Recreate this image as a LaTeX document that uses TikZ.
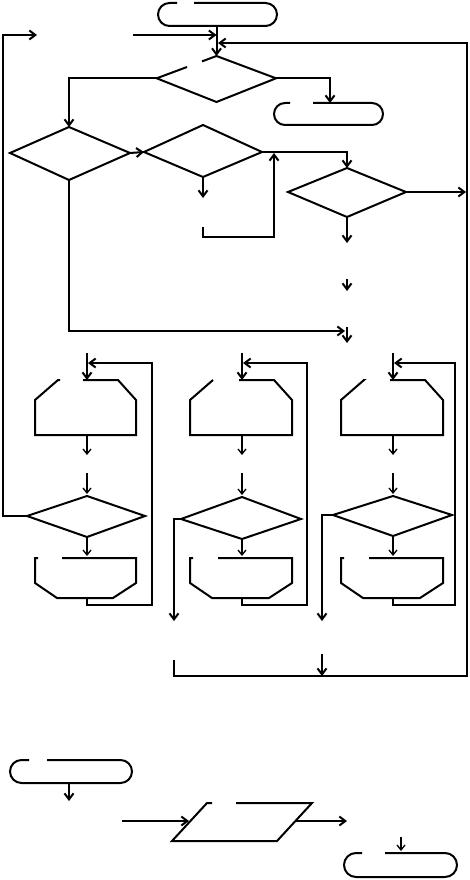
\documentclass[tikz,border=0pt]{standalone}
\usetikzlibrary{arrows.meta}
\begin{document}
\begin{tikzpicture}[x=1pt,y=-1pt,line join=miter,
  outline/.style={line width=2pt},
  wire/.style={line width=2pt},
  arr/.style={line width=2pt,-{Straight Barb[length=6pt,width=9pt]}},
  tarr/.style={line width=1.3pt,-{Straight Barb[length=5pt,width=8pt]}}]
\useasboundingbox (0,0) rectangle (469,880);

% ---------- top part ----------
\coordinate (t1b) at (216.5,26);
\draw[outline,rounded corners=11.5pt] (177,3) -- (158,3) -- (158,26) -- (277,26) -- (277,3) -- (194,3);

\coordinate (d1t) at (216.5,56);
\coordinate (d1l) at (156.7,78.3);
\coordinate (d1r) at (276,78.3);
\coordinate (d1b) at (216.5,102);
\draw[outline] (202,61.4) -- (d1t) -- (d1r) -- (d1b) -- (d1l) -- (187,67);

\draw[arr] (t1b) -- (d1t);
\coordinate (inL) at (133,35);
\draw[arr] (inL) -- (inL -| t1b);

\coordinate (t2t) at (330,103);
\draw[outline,rounded corners=11pt] (290,103) -- (274,103) -- (274,125) -- (383,125) -- (383,103) -- (313,103);
\draw[arr] (d1r) -| (t2t);

% diamond A
\coordinate (dAt) at (69,127);
\coordinate (dAl) at (10,153);
\coordinate (dAr) at (130,153);
\coordinate (dAb) at (69,180);
\draw[outline] (dAt) -- (dAr) -- (dAb) -- (dAl) -- cycle;
\draw[arr] (d1l) -| (dAt);

% diamond B
\coordinate (dBt) at (203,125);
\coordinate (dBl) at (144,152);
\coordinate (dBr) at (262,152);
\coordinate (dBb) at (203,177);
\draw[outline] (dBt) -- (dBr) -- (dBb) -- (dBl) -- cycle;
\draw[arr] (dAr) -- (dBl);
\coordinate (bOut) at (203,198);
\draw[arr] (dBb) -- (bOut);
\coordinate (bIn) at (203,227);
\coordinate (bUp) at (274,153);
\draw[arr] (bIn) -- (203,237) -| (bUp);

% diamond C
\coordinate (dCt) at (347,168);
\coordinate (dCl) at (288,192);
\coordinate (dCr) at (406,192);
\coordinate (dCb) at (347,217);
\draw[outline] (dCt) -- (dCr) -- (dCb) -- (dCl) -- cycle;
\draw[arr] (dBr) -| (dCt);
\coordinate (cRt) at (466,192);
\draw[arr] (dCr) -- (cRt);
\coordinate (cOut) at (347,243);
\draw[arr] (dCb) -- (cOut);
\coordinate (s1a) at (347,279);
\coordinate (s1b) at (347,291);
\draw[arr] (s1a) -- (s1b);
\coordinate (aEnd) at (345,331);
\draw[arr] (dAb) |- (aEnd);
\coordinate (s2a) at (347,327);
\coordinate (s2b) at (347,343);
\draw[arr] (s2a) -- (s2b);

% ---------- three loop columns ----------
\foreach \n/\cx/\L/\R/\gl/\gr/\rx/\dt/\dl/\dr/\db/\dy/\gb in
  {1/87/35/136/60/83/152/496/27/145/537/516/62,
   2/242/190/292/213/239/307/497/181/301/539/519/218,
   3/393/341/443/363/390/455/496/333/452/536/515/369}{
  % loop start
  \draw[outline] (\gl,380) -- (\L+23,380) -- (\L,400) -- (\L,435) -- (\R,435) -- (\R,400) -- (\R-18,380) -- (\gr,380);
  \coordinate (ls\n t) at (\cx,380);
  \coordinate (ls\n b) at (\cx,435);
  \coordinate (in\n) at (\cx,353);
  \draw[arr] (in\n) -- (ls\n t);
  \coordinate (o\n) at (\cx,455);
  \draw[tarr] (ls\n b) -- (o\n);
  \coordinate (i\n a) at (\cx,473);
  % diamond
  \coordinate (q\n t) at (\cx,\dt);
  \coordinate (q\n l) at (\dl,\dy);
  \coordinate (q\n r) at (\dr,\dy);
  \coordinate (q\n b) at (\cx,\db);
  \draw[outline] (q\n t) -- (q\n r) -- (q\n b) -- (q\n l) -- cycle;
  \draw[tarr] (i\n a) -- (\cx,\dt-2);
  % loop end
  \draw[outline] (\L+3,558) -- (\L,558) -- (\L,583) -- (\L+22,598) -- (\R-23,598) -- (\R,583) -- (\R,558) -- (\gb,558);
  \coordinate (le\n t) at (\cx,556);
  \coordinate (le\n b) at (\cx,598);
  \draw[tarr] (q\n b) -- (le\n t);
  \coordinate (ret\n) at (\cx+1,363);
  \draw[arr] (le\n b) -- (\cx,605) -- (\rx,605) -- (\rx,363) -- (ret\n);
}

\coordinate (lTop) at (37,35);
\draw[arr] (q1l) -- (3,516) -- (3,35) -- (lTop);
\coordinate (x2) at (174,621);
\draw[arr] (q2l) -- (q2l -| x2) -- (x2);
\coordinate (x3) at (322,621);
\draw[arr] (q3l) -- (q3l -| x3) -- (x3);

\coordinate (rStart) at (174,660);
\coordinate (rEnd) at (218,43);
\draw[arr] (rStart) -- (174,676) -- (467,676) -- (467,43) -- (rEnd);
\coordinate (m1) at (322,654);
\coordinate (m2) at (322,676);
\draw[arr] (m1) -- (m2);

% ---------- bottom part ----------
\draw[outline,rounded corners=11.5pt] (29,760) -- (10,760) -- (10,783) -- (132,783) -- (132,760) -- (47,760);
\coordinate (tb3) at (69,783);
\coordinate (tb3o) at (69,801);
\draw[arr] (tb3) -- (tb3o);

\coordinate (pl) at (189,821);
\coordinate (pr) at (295,821);
\draw[outline] (212,803) -- (207,803) -- (172,841) -- (277,841) -- (312,803) -- (236,803);
\coordinate (pin) at (122,821);
\draw[arr] (pin) -- (pl);
\coordinate (pout) at (347,821);
\draw[arr] (pr) -- (pout);

\coordinate (t4t) at (401,851);
\coordinate (t4i) at (401,837);
\draw[outline,rounded corners=12pt] (362,853) -- (344,853) -- (344,877) -- (457,877) -- (457,853) -- (385,853);
\draw[tarr] (t4i) -- (t4t);
\end{tikzpicture}
\end{document}
